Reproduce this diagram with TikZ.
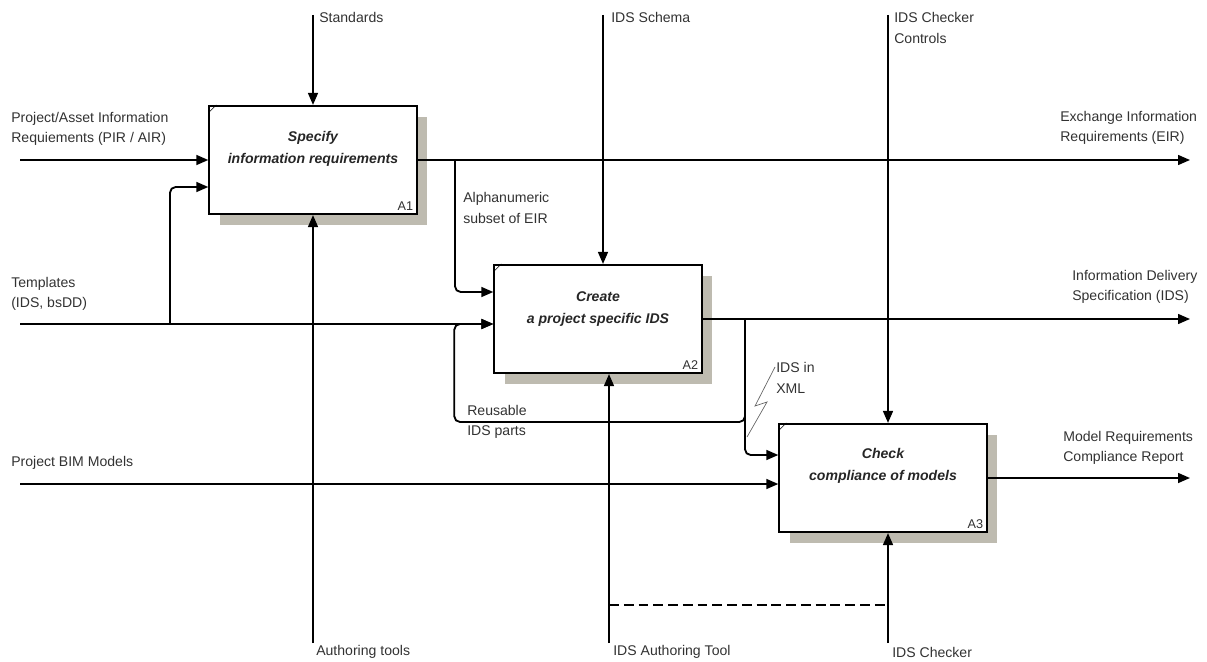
\documentclass[tikz,border=0pt]{standalone}
\usepackage{fontspec}
\setmainfont{Liberation Sans}
\usepackage{xcolor}
\usetikzlibrary{arrows.meta,positioning,calc,shadows}
\definecolor{shadowgrey}{RGB}{190,187,176}
\definecolor{inkgrey}{RGB}{50,50,50}

\begin{document}
\begin{tikzpicture}[
  x=0.025cm, y=-0.025cm,
  font=\fontsize{10}{14.5}\selectfont, text=inkgrey,
  act/.style={draw, line width=1.5pt, fill=white, minimum width=5.18cm, minimum height=2.7cm,
    drop shadow={shadow xshift=0.27cm, shadow yshift=-0.27cm, fill=shadowgrey, opacity=1}},
  actname/.style={align=center, inner sep=0pt, text=black!85, font=\fontsize{10}{15.5}\selectfont\bfseries\itshape},
  actnum/.style={anchor=south east, inner sep=3pt, font=\fontsize{9}{11}\selectfont},
  lbl/.style={align=left, inner sep=0pt, anchor=west},
  arr/.style={-{Triangle[length=8.5pt, width=7pt]}, line width=1.3pt},
  flow/.style={line width=1.3pt},
  bolt/.style={draw=black!60, line width=0.5pt}
]
\useasboundingbox (0,0) rectangle (1207,662);

% activities
\node[act] (a1) at (313,160) {};
\node[act] (a2) at (598,319) {};
\node[act] (a3) at (883,478) {};
\node[actname] (a1t) at ($(a1)+(0,-11)$) {Specify\\information requirements};
\node[actname] (a2t) at ($(a2)+(0,-10)$) {Create\\a project specific IDS};
\node[actname] (a3t) at ($(a3)+(0,-12)$) {Check\\compliance of models};
\node[actnum] (a1n) at (a1.south east) {A1};
\node[actnum] (a2n) at (a2.south east) {A2};
\node[actnum] (a3n) at (a3.south east) {A3};
\draw[thin] ($(a1.north west)+(0,8)$) -- ($(a1.north west)+(8,0)$);
\draw[thin] ($(a2.north west)+(0,8)$) -- ($(a2.north west)+(8,0)$);
\draw[thin] ($(a3.north west)+(0,8)$) -- ($(a3.north west)+(8,0)$);

% controls
\coordinate (stdin) at (313,15);
\coordinate (schin) at (603,15);
\coordinate (ctlin) at (888,15);
\draw[arr] (stdin) -- (a1.north);
\draw[arr] (schin) -- (schin |- a2.north);
\draw[arr] (ctlin) -- (ctlin |- a3.north);
\node[lbl] (std) at (319,17) {Standards};
\node[lbl] (sch) at (611,17) {IDS Schema};
\node[lbl] (ctl) at (894,28) {IDS Checker\\Controls};

% mechanisms
\coordinate (autin) at (313,643);
\coordinate (idain) at (609,643);
\coordinate (chkin) at (888,643);
\coordinate (dashy) at (0,605);
\draw[arr] (autin) -- (a1.south);
\draw[arr] (idain) -- (idain |- a2.south);
\draw[arr] (chkin) -- (chkin |- a3.south);
\draw[flow, dash pattern=on 7pt off 3.5pt] (idain |- dashy) -- (chkin |- dashy);
\node[lbl] (aut) at (316,652) {Authoring tools};
\node[lbl] (ida) at (613,652) {IDS Authoring Tool};
\node[lbl] (chk) at (892,652) {IDS Checker};

% inputs
\coordinate (pirin) at (20,160);
\coordinate (tplin) at (20,324);
\coordinate (tplbr) at (170,324);
\coordinate (bimin) at (20,484);
\draw[arr] (pirin) -- (a1.west);
\draw[arr] (tplin) -- (tplin -| a2.west);
\draw[arr, rounded corners=4pt] (tplbr) |- ($(a1.west)+(0,27)$);
\draw[arr] (bimin) -- (bimin -| a3.west);
\node[lbl] (pir) at (11,129) {Project/Asset Information\\Requiements (PIR / AIR)};
\node[lbl] (tpl) at (11,294) {Templates\\(IDS, bsDD)};
\node[lbl] (bim) at (11,463) {Project BIM Models};

% outputs
\coordinate (eirout) at (1190,160);
\coordinate (idsout) at (1190,319);
\coordinate (crout) at (1190,478);
\coordinate (a1br) at (455,160);
\coordinate (a2br) at (745,319);
\coordinate (reuse) at (745,422);
\draw[arr] (a1.east) -- (eirout);
\draw[arr] (a2.east) -- (idsout);
\draw[arr] (a3.east) -- (crout);
\draw[arr, rounded corners=4pt] (a1br) |- ($(a2.west)+(0,-27)$);
\draw[arr, rounded corners=4pt] (a2br) |- ($(a3.west)+(0,-23)$);
\draw[arr, rounded corners=4pt] (a2br) -- (reuse) -| ($(a2.west)+(-39,5)$) -- ($(a2.west)+(0,5)$);
\node[lbl] (eir) at (1060,128) {Exchange Information\\Requirements (EIR)};
\node[lbl] (ids) at (1072,287) {Information Delivery\\Specification (IDS)};
\node[lbl] (cr) at (1063,448) {Model Requirements\\Compliance Report};
\node[lbl] (alpha) at (463,208) {Alphanumeric\\subset of EIR};
\node[lbl] (reu) at (467,422) {Reusable\\IDS parts};

% IDS in XML
\node[lbl] (xml) at (776,378) {IDS in\\XML};
\coordinate (boltfoot) at (747,437);
\draw[bolt] (boltfoot) -- ++(20,-35) -- ++(-12,4) -- (775,367);
\end{tikzpicture}
\end{document}
